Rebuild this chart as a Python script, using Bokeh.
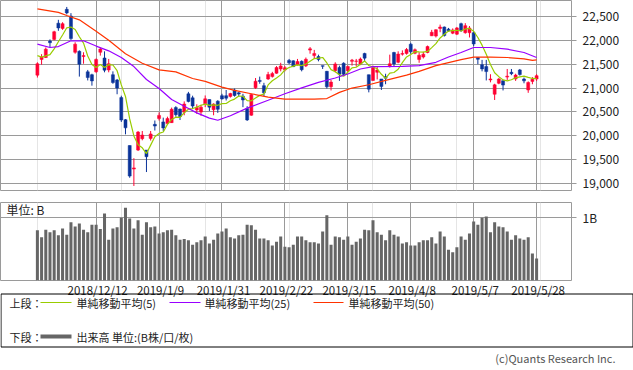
import pandas as pd
from bokeh.plotting import figure
from bokeh.layouts import column
from bokeh.models import Range1d, FixedTicker, NumeralTickFormatter, Label, Grid, ColumnDataSource
from bokeh.embed import file_html
from bokeh.resources import INLINE
from bokeh.core.properties import value

# ---------------- data ----------------
dates = [
    "2018/11/21", "2018/11/22", "2018/11/26", "2018/11/27", "2018/11/28", "2018/11/29", "2018/11/30",
    "2018/12/3", "2018/12/4", "2018/12/5", "2018/12/6", "2018/12/7", "2018/12/10", "2018/12/11",
    "2018/12/12", "2018/12/13", "2018/12/14", "2018/12/17", "2018/12/18", "2018/12/19", "2018/12/20",
    "2018/12/21", "2018/12/25", "2018/12/26", "2018/12/27", "2018/12/28", "2019/1/4", "2019/1/7",
    "2019/1/8", "2019/1/9", "2019/1/10", "2019/1/11", "2019/1/15", "2019/1/16", "2019/1/17",
    "2019/1/18", "2019/1/21", "2019/1/22", "2019/1/23", "2019/1/24", "2019/1/25", "2019/1/28",
    "2019/1/29", "2019/1/30", "2019/1/31", "2019/2/1", "2019/2/4", "2019/2/5", "2019/2/6",
    "2019/2/7", "2019/2/8", "2019/2/12", "2019/2/13", "2019/2/14", "2019/2/15", "2019/2/18",
    "2019/2/19", "2019/2/20", "2019/2/21", "2019/2/22", "2019/2/25", "2019/2/26", "2019/2/27",
    "2019/2/28", "2019/3/1", "2019/3/4", "2019/3/5", "2019/3/6", "2019/3/7", "2019/3/8",
    "2019/3/11", "2019/3/12", "2019/3/13", "2019/3/14", "2019/3/15", "2019/3/18", "2019/3/19",
    "2019/3/20", "2019/3/22", "2019/3/25", "2019/3/26", "2019/3/27", "2019/3/28", "2019/3/29",
    "2019/4/1", "2019/4/2", "2019/4/3", "2019/4/4", "2019/4/5", "2019/4/8", "2019/4/9",
    "2019/4/10", "2019/4/11", "2019/4/12", "2019/4/15", "2019/4/16", "2019/4/17", "2019/4/18",
    "2019/4/19", "2019/4/22", "2019/4/23", "2019/4/24", "2019/4/25", "2019/4/26", "2019/5/7",
    "2019/5/8", "2019/5/9", "2019/5/10", "2019/5/13", "2019/5/14", "2019/5/15", "2019/5/16",
    "2019/5/17", "2019/5/20", "2019/5/21", "2019/5/22", "2019/5/23", "2019/5/24", "2019/5/27",
    "2019/5/28",
]

opens = [
    21270, 21600, 21640, 21985, 22020, 22360, 22250, 22650, 22510, 21750,
    21770, 21660, 21340, 21280, 21340, 21750, 21630, 21380, 21280, 21170,
    20800, 20338, 19796, 19302, 19700, 19940, 19700, 19945, 20240, 20360,
    20290, 20255, 20275, 20590, 20560, 20495, 20880, 20795, 20540, 20496,
    20670, 20760, 20545, 20725, 20840, 20840, 20825, 20960, 20900, 20830,
    20570, 20430, 21005, 21160, 21050, 21190, 21240, 21310, 21400, 21380,
    21580, 21570, 21490, 21560, 21465, 21795, 21680, 21660, 21470, 21350,
    21030, 21365, 21430, 21520, 21365, 21560, 21560, 21505, 21725, 21280,
    21160, 21330, 21190, 21240, 21450, 21745, 21540, 21710, 21725, 21920,
    21730, 21600, 21650, 21745, 22095, 22090, 22250, 22280, 22235, 22150,
    22130, 22350, 22160, 22160, 22160, 21640, 21490, 21450, 21170, 20870,
    21100, 21155, 21230, 21330, 21190, 21380, 21190, 20960, 21140, 21190,
]
highs = [
    21540, 21710, 21850, 22020, 22200, 22430, 22380, 22700, 22570, 21960,
    21790, 21750, 21380, 21300, 21620, 21850, 21770, 21610, 21350, 21190,
    20840, 20350, 19796, 19530, 20100, 20100, 19700, 20100, 20320, 20490,
    20380, 20400, 20590, 20620, 20570, 20720, 20920, 20840, 20660, 20650,
    20845, 20760, 20680, 20745, 20880, 20960, 20900, 20990, 20920, 20880,
    20620, 20880, 21210, 21240, 21110, 21340, 21340, 21460, 21530, 21460,
    21610, 21580, 21610, 21580, 21640, 21860, 21800, 21700, 21470, 21360,
    21170, 21540, 21470, 21540, 21470, 21610, 21610, 21640, 21740, 21280,
    21470, 21440, 21190, 21300, 21700, 21760, 21770, 21790, 21840, 21950,
    21830, 21750, 21760, 21890, 22220, 22230, 22330, 22290, 22260, 22250,
    22280, 22370, 22360, 22300, 22190, 21640, 21590, 21590, 21290, 21090,
    21210, 21160, 21400, 21400, 21300, 21400, 21220, 21140, 21230, 21290,
]
lows = [
    21220, 21490, 21630, 21850, 22000, 22200, 22220, 22545, 22010, 21720,
    21240, 21510, 21160, 21050, 21320, 21680, 21330, 21330, 21090, 20870,
    20290, 20030, 19120, 18948, 19680, 19905, 19240, 19900, 20110, 20320,
    20100, 20230, 20270, 20400, 20330, 20430, 20700, 20560, 20460, 20420,
    20600, 20520, 20430, 20480, 20760, 20740, 20800, 20820, 20820, 20600,
    20310, 20420, 20980, 21090, 20830, 21170, 21220, 21300, 21350, 21350,
    21500, 21440, 21470, 21350, 21440, 21720, 21620, 21560, 21400, 20990,
    20950, 21330, 21150, 21270, 21340, 21470, 21450, 21480, 21570, 20910,
    21150, 21180, 20960, 21080, 21430, 21460, 21520, 21680, 21700, 21720,
    21710, 21530, 21620, 21730, 22090, 22060, 22170, 22080, 22180, 22130,
    22110, 22180, 22140, 22060, 21880, 21500, 21350, 21160, 21120, 20750,
    21080, 20950, 21170, 21270, 21150, 21260, 21100, 20900, 21080, 21150,
]
closes = [
    21510, 21650, 21815, 21950, 22180, 22260, 22350, 22575, 22036, 21920,
    21500, 21680, 21220, 21150, 21600, 21816, 21375, 21510, 21115, 21000,
    20330, 20166, 19155, 19327, 20077, 20015, 19561, 20039, 20204, 20427,
    20164, 20360, 20555, 20443, 20402, 20666, 20719, 20623, 20594, 20600,
    20774, 20600, 20664, 20556, 20773, 20788, 20884, 20844, 20874, 20751,
    20333, 20864, 21144, 21140, 20900, 21282, 21303, 21431, 21464, 21426,
    21528, 21449, 21557, 21385, 21603, 21822, 21726, 21597, 21456, 21026,
    21125, 21504, 21290, 21287, 21451, 21585, 21567, 21609, 21627, 20977,
    21428, 21379, 21034, 21206, 21509, 21505, 21713, 21725, 21808, 21762,
    21803, 21688, 21711, 21871, 22169, 22222, 22278, 22100, 22200, 22218,
    22260, 22201, 22308, 22259, 21924, 21603, 21402, 21345, 21191, 21067,
    21189, 21063, 21250, 21302, 21272, 21283, 21151, 21117, 21183, 21260,
]
# closes of the four sessions before the first candle (for the 5-day average)
prior_closes = [21803, 21680, 21821, 21583]

volumes = [  # unit: B
    0.80, 0.69, 0.81, 0.77, 0.80, 0.72, 0.83, 0.73, 0.93, 0.86,
    0.91, 0.81, 0.77, 0.89, 0.89, 0.82, 1.07, 0.65, 0.83, 0.85,
    1.00, 1.16, 0.99, 0.83, 0.96, 0.73, 0.93, 0.85, 0.86, 0.75,
    0.77, 0.80, 0.81, 0.72, 0.65, 0.66, 0.64, 0.57, 0.61, 0.64,
    0.70, 0.59, 0.65, 0.75, 0.78, 0.83, 0.69, 0.67, 0.72, 0.73,
    0.89, 0.88, 0.81, 0.67, 0.67, 0.64, 0.56, 0.62, 0.70, 0.54,
    0.53, 0.57, 0.70, 0.70, 0.64, 0.61, 0.61, 0.59, 0.78, 1.04,
    0.57, 0.70, 0.69, 0.65, 0.70, 0.57, 0.62, 0.67, 0.81, 0.80,
    0.96, 0.77, 0.73, 0.64, 0.80, 0.73, 0.70, 0.59, 0.61, 0.56,
    0.56, 0.61, 0.64, 0.64, 0.69, 0.59, 0.78, 0.70, 0.49, 0.45,
    0.53, 0.70, 0.65, 0.75, 0.94, 0.89, 1.00, 1.02, 0.77, 0.93,
    0.86, 0.85, 0.78, 0.65, 0.72, 0.67, 0.65, 0.69, 0.43, 0.35,
]

# 25- and 50-day moving averages (session index, value)
ma25_idx = [0, 3, 5, 8, 11, 14, 17, 20, 23, 26, 29, 32, 35, 38, 41, 43, 46, 50, 55, 59, 63, 67,
            71, 74, 77, 80, 87, 91, 95, 98, 101, 104, 108, 112, 116, 119]
ma25_val = [21920, 21850, 21870, 21990, 21990, 21880, 21780, 21640, 21450, 21180, 20990, 20760,
            20620, 20480, 20370, 20325, 20420, 20580, 20745, 20880, 21005, 21120, 21210, 21295,
            21400, 21450, 21455, 21470, 21540, 21650, 21745, 21850, 21850, 21815, 21745, 21640]
ma50_idx = [0, 5, 7, 10, 14, 17, 21, 25, 29, 33, 37, 40, 44, 47, 51, 55, 59, 66, 69, 72, 75, 79,
            83, 88, 91, 95, 101, 104, 108, 112, 116, 118, 119]
ma50_val = [22660, 22585, 22520, 22430, 22190, 22000, 21720, 21520, 21380, 21340, 21200, 21140,
            21020, 20950, 20880, 20810, 20770, 20770, 20780, 20910, 21000, 21070, 21160, 21270,
            21350, 21470, 21595, 21650, 21650, 21640, 21610, 21580, 21590]

tick_dates = ["2018/12/12", "2019/1/9", "2019/1/31", "2019/2/22", "2019/3/15", "2019/4/8",
              "2019/5/7", "2019/5/28"]
price_ticks = [19000, 19500, 20000, 20500, 21000, 21500, 22000, 22500]
volume_ticks = [1]
volume_tick_labels = ["1B"]

legend_labels = ["単純移動平均(5)", "単純移動平均(25)", "単純移動平均(50)"]

# ---------------- styling ----------------
FONT = "Noto Sans CJK JP"
GRID = "#9a9a9a"
UP, DOWN = "#ff0033", "#0a3399"
MA_COLORS = ["#99cc00", "#9900ff", "#ff3300"]
VOL_COLOR = "#666666"
TXT = "#222222"

x = list(range(len(dates)))
tick_idx = [dates.index(d) for d in tick_dates]
ma5 = pd.Series(prior_closes + closes).rolling(5).mean().iloc[len(prior_closes):].tolist()

src = ColumnDataSource(dict(
    x=x, open=opens, high=highs, low=lows, close=closes,
    top=[max(o, c) for o, c in zip(opens, closes)],
    bottom=[min(o, c) for o, c in zip(opens, closes)],
    color=[UP if c >= o else DOWN for o, c in zip(opens, closes)],
    volume=volumes,
))

X0, X1 = -8.796, 127.32
xr = Range1d(X0, X1)

# ---------------- price panel ----------------
p1 = figure(width=633, height=196, x_range=xr, y_range=Range1d(18853, 22835),
            output_backend="svg", toolbar_location=None,
            x_axis_location=None, y_axis_location="right",
            min_border_left=0, min_border_right=62, min_border_top=0, min_border_bottom=6)
p1.outline_line_color = GRID
p1.yaxis.ticker = FixedTicker(ticks=price_ticks)
p1.ygrid.ticker = FixedTicker(ticks=price_ticks)
p1.yaxis.formatter = NumeralTickFormatter(format="0,0")
p1.yaxis.axis_line_color = None
p1.yaxis.major_tick_line_color = GRID
p1.yaxis.major_tick_out = 5
p1.yaxis.major_tick_in = 0
p1.yaxis.minor_tick_line_color = None
p1.yaxis.major_label_standoff = 6
p1.yaxis.major_label_text_font = FONT
p1.yaxis.major_label_text_font_size = "12px"
p1.yaxis.major_label_text_color = TXT
p1.ygrid.grid_line_color = GRID
p1.add_layout(Grid(dimension=0, ticker=FixedTicker(ticks=tick_idx), grid_line_color=GRID))

p1.segment(x0="x", y0="low", x1="x", y1="high", line_color="color", line_width=1, source=src)
p1.vbar(x="x", width=0.72, top="top", bottom="bottom", fill_color="color", line_color="color",
        line_width=0.5, source=src)
p1.line(x, ma5, line_color=MA_COLORS[0], line_width=1.2)
p1.line(ma25_idx, ma25_val, line_color=MA_COLORS[1], line_width=1.2)
p1.line(ma50_idx, ma50_val, line_color=MA_COLORS[2], line_width=1.2)

# ---------------- volume panel ----------------
p2 = figure(width=633, height=85, x_range=xr, y_range=Range1d(0, 1.244),
            output_backend="svg", toolbar_location=None,
            x_axis_location=None, y_axis_location="right",
            min_border_left=0, min_border_right=62, min_border_top=6, min_border_bottom=1)
p2.outline_line_color = GRID
p2.yaxis.ticker = FixedTicker(ticks=volume_ticks)
p2.ygrid.ticker = FixedTicker(ticks=volume_ticks)
p2.yaxis.major_label_overrides = dict(zip(volume_ticks, volume_tick_labels))
p2.yaxis.axis_line_color = None
p2.yaxis.major_tick_line_color = GRID
p2.yaxis.major_tick_out = 5
p2.yaxis.major_tick_in = 0
p2.yaxis.minor_tick_line_color = None
p2.yaxis.major_label_standoff = 6
p2.yaxis.major_label_text_font = FONT
p2.yaxis.major_label_text_font_size = "12px"
p2.yaxis.major_label_text_color = TXT
p2.ygrid.grid_line_color = GRID
p2.add_layout(Grid(dimension=0, ticker=FixedTicker(ticks=tick_idx), grid_line_color=GRID))
p2.vbar(x="x", width=0.72, top="volume", bottom=0, fill_color=VOL_COLOR, line_color=None, source=src)
p2.add_layout(Label(x=X0 + 1.45, y=1.13, text="単位: B", text_font=FONT, text_font_size="12px",
                    text_color=TXT, text_baseline="middle"))

# ---------------- date labels, legend, credit (page-pixel coordinates) ----------------
p3 = figure(width=633, height=89, x_range=Range1d(0, 633), y_range=Range1d(370, 281),
            output_backend="svg", toolbar_location=None,
            x_axis_location=None, y_axis_location=None,
            min_border_left=0, min_border_right=0, min_border_top=0, min_border_bottom=0)
if "frame_align" in p3.properties():
    p3.frame_align = False
p3.outline_line_color = None
p3.grid.visible = False
p3.extra_x_ranges = {"idx": Range1d(X0, X0 + 633 / 4.195)}
p3.text(x=tick_idx, y=[289] * len(tick_idx), text=tick_dates, x_range_name="idx",
        x_offset=1.5, text_align="center", text_baseline="middle",
        text_font=value(FONT), text_font_size="11.5px", text_color=TXT)

p3.quad(left=[0.5], right=[632.5], top=[293.5], bottom=[346.5], fill_color=None,
        line_color="#000000", line_width=1)
p3.text(x=[9, 9], y=[302, 336], text=["上段：", "下段："], text_baseline="middle",
        text_font=value(FONT), text_font_size="11px", text_color=TXT)
p3.segment(x0=[40, 169, 313], y0=[302, 302, 302], x1=[71, 200, 343], y1=[302, 302, 302],
           line_color=MA_COLORS, line_width=1.2)
p3.text(x=[76, 204, 348], y=[302, 302, 302], text=legend_labels, text_baseline="middle",
        text_font=value(FONT), text_font_size="11px", text_color=TXT)
p3.segment(x0=[40], y0=[336], x1=[71], y1=[336], line_color=VOL_COLOR, line_width=4)
p3.text(x=[76], y=[336], text=["出来高 単位:(B株/口/枚)"], text_baseline="middle",
        text_font=value(FONT), text_font_size="11px", text_color=TXT)
p3.text(x=[615], y=[357], text=["(c)Quants Research Inc."], text_align="right",
        text_baseline="middle", text_font=value(FONT), text_font_size="11px",
        text_color="#555555")

layout = column(p1, p2, p3, spacing=0)
open("out.html", "w").write(file_html(layout, INLINE))
